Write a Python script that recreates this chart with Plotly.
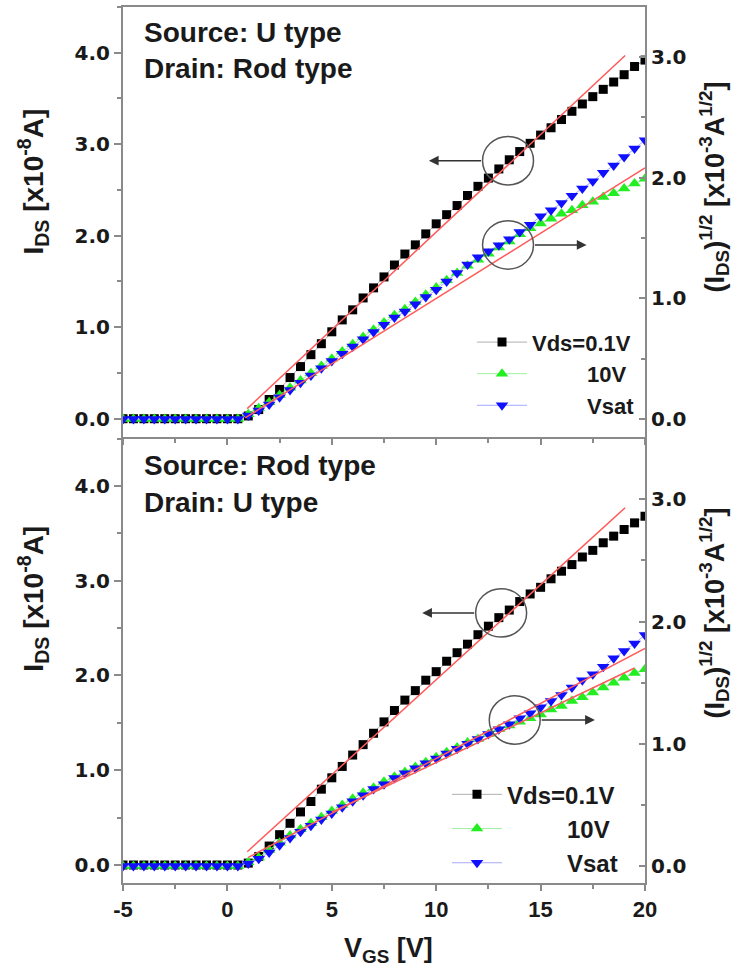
import plotly.graph_objects as go

# ---------------- data ----------------
vgs = [-5.0, -4.5, -4.0, -3.5, -3.0, -2.5, -2.0, -1.5, -1.0, -0.5, 0.0, 0.5,
       1.0, 1.5, 2.0, 2.5, 3.0, 3.5, 4.0, 4.5, 5.0, 5.5,
       6.0, 6.5, 7.0, 7.5, 8.0, 8.5, 9.0, 9.5, 10.0, 10.5,
       11.0, 11.5, 12.0, 12.5, 13.0, 13.5, 14.0, 14.5, 15.0, 15.5,
       16.0, 16.5, 17.0, 17.5, 18.0, 18.5, 19.0, 19.5, 20.0]

off = [0.0] * 12  # -5 .. 0.5 V

# top panel (Source: U type / Drain: Rod type)
top_ids_01 = off + [0.03, 0.10, 0.21, 0.32, 0.45, 0.57, 0.70, 0.82, 0.95, 1.08,
                    1.19, 1.32, 1.43, 1.55, 1.68, 1.80, 1.90, 2.02, 2.13, 2.23,
                    2.33, 2.44, 2.54, 2.63, 2.73, 2.83, 2.92, 3.01, 3.10, 3.18,
                    3.27, 3.36, 3.44, 3.52, 3.60, 3.68, 3.76, 3.85, 3.92]
top_sqrt_10 = off + [0.04, 0.09, 0.14, 0.20, 0.26, 0.32, 0.38, 0.44, 0.50, 0.56,
                     0.62, 0.68, 0.74, 0.80, 0.86, 0.91, 0.97, 1.03, 1.09, 1.15,
                     1.21, 1.27, 1.32, 1.37, 1.42, 1.47, 1.53, 1.58, 1.62, 1.66,
                     1.70, 1.73, 1.77, 1.80, 1.84, 1.87, 1.91, 1.95, 1.99]
top_sqrt_sat = off + [0.03, 0.07, 0.12, 0.18, 0.24, 0.30, 0.36, 0.42, 0.48, 0.54,
                      0.60, 0.66, 0.72, 0.78, 0.84, 0.89, 0.95, 1.01, 1.07, 1.14,
                      1.21, 1.28, 1.34, 1.39, 1.44, 1.49, 1.55, 1.61, 1.68, 1.73,
                      1.79, 1.85, 1.91, 1.97, 2.04, 2.10, 2.17, 2.24, 2.31]

# bottom panel (Source: Rod type / Drain: U type)
bot_ids_01 = off + [0.02, 0.09, 0.20, 0.32, 0.44, 0.56, 0.67, 0.80, 0.92, 1.04,
                    1.16, 1.27, 1.39, 1.51, 1.63, 1.74, 1.84, 1.95, 2.04, 2.15,
                    2.24, 2.33, 2.43, 2.52, 2.61, 2.69, 2.78, 2.86, 2.93, 3.02,
                    3.10, 3.17, 3.25, 3.32, 3.40, 3.47, 3.54, 3.61, 3.68]
bot_sqrt_10 = off + [0.03, 0.07, 0.13, 0.19, 0.25, 0.30, 0.35, 0.40, 0.45, 0.50,
                     0.55, 0.60, 0.64, 0.69, 0.73, 0.77, 0.81, 0.85, 0.89, 0.93,
                     0.97, 1.01, 1.04, 1.08, 1.12, 1.15, 1.18, 1.21, 1.24, 1.28,
                     1.31, 1.35, 1.38, 1.42, 1.46, 1.50, 1.54, 1.58, 1.61]
bot_sqrt_sat = off + [0.02, 0.06, 0.11, 0.17, 0.23, 0.28, 0.33, 0.38, 0.43, 0.48,
                      0.53, 0.58, 0.63, 0.67, 0.72, 0.76, 0.80, 0.84, 0.88, 0.92,
                      0.96, 1.00, 1.04, 1.08, 1.12, 1.16, 1.21, 1.25, 1.30, 1.35,
                      1.40, 1.46, 1.52, 1.57, 1.63, 1.70, 1.76, 1.82, 1.89]

# linear fits (end points)
top_fit_ids_x, top_fit_ids_y = [0.95, 19.05], [0.11, 3.97]
top_fit_sqrt_x, top_fit_sqrt_y = [0.85, 20.0], [0.01, 2.08]
bot_fit_ids_x, bot_fit_ids_y = [0.95, 19.05], [0.14, 3.77]
bot_fit_sat_x, bot_fit_sat_y = [1.0, 20.0], [0.07, 1.78]
bot_fit_10_x, bot_fit_10_y = [5.0, 19.5], [0.44, 1.62]

x_tick_vals = [-5, 0, 5, 10, 15, 20]
x_tick_text = ["-5", "0", "5", "10", "15", "20"]

series_names = ["Vds=0.1V", "\u00a0" * 9 + "10V", "\u00a0" * 9 + "Vsat"]
panel_titles = [("Source: U type", "Drain: Rod type"), ("Source: Rod type", "Drain: U type")]

# ---------------- figure ----------------
W, H = 739, 974
ML, MR, MT, MB = 123, 94, 5, 91
PW, PH = W - ML - MR, H - MT - MB
split = (H - MB - 436) / PH

def px(xp):
    return (xp - ML) / PW

def py(yp):
    return (H - MB - yp) / PH

AX = "#8a8a8a"
RED = "#ff5a5a"
FONT = "Liberation Sans"

fig = go.Figure()

def add_panel(ids, s10, ssat, xa, yl, yr, leg):
    fig.add_trace(go.Scatter(x=vgs, y=ids, name=series_names[0], mode="lines+markers",
                             line=dict(color="#b0b0b0", width=1),
                             marker=dict(symbol="square", size=9, color="black"),
                             xaxis=xa, yaxis=yl, legend=leg))
    fig.add_trace(go.Scatter(x=vgs, y=s10, name=series_names[1], mode="lines+markers",
                             line=dict(color="#a0f0a0", width=1),
                             marker=dict(symbol="triangle-up", size=11, color="#22ee22"),
                             xaxis=xa, yaxis=yr, legend=leg))
    fig.add_trace(go.Scatter(x=vgs, y=ssat, name=series_names[2], mode="lines+markers",
                             line=dict(color="#a8a8ff", width=1),
                             marker=dict(symbol="triangle-down", size=11, color="#1010ff"),
                             xaxis=xa, yaxis=yr, legend=leg))

add_panel(top_ids_01, top_sqrt_10, top_sqrt_sat, "x", "y", "y2", "legend")
add_panel(bot_ids_01, bot_sqrt_10, bot_sqrt_sat, "x2", "y3", "y4", "legend2")

for fx, fy, xa, ya in [(top_fit_ids_x, top_fit_ids_y, "x", "y"),
                       (top_fit_sqrt_x, top_fit_sqrt_y, "x", "y2"),
                       (bot_fit_ids_x, bot_fit_ids_y, "x2", "y3"),
                       (bot_fit_sat_x, bot_fit_sat_y, "x2", "y4"),
                       (bot_fit_10_x, bot_fit_10_y, "x2", "y4")]:
    fig.add_trace(go.Scatter(x=fx, y=fy, mode="lines", line=dict(color=RED, width=1.5),
                             xaxis=xa, yaxis=ya, showlegend=False, hoverinfo="skip"))

xtickfont = dict(family=FONT, size=22, color="#1a1a1a", weight="bold")
ytickfont = dict(family="DejaVu Sans", size=20, color="#1a1a1a", weight="bold")
common_x = dict(range=[-5, 20], tickmode="array", tickvals=x_tick_vals, ticktext=x_tick_text,
                ticks="outside", ticklen=6, tickwidth=1.5,
                tickcolor=AX, showline=True, linecolor=AX, linewidth=2, showgrid=False,
                zeroline=False, tickfont=xtickfont,
                minor=dict(tickmode="linear", tick0=-5, dtick=2.5, ticks="outside", ticklen=4,
                           tickcolor=AX, tickwidth=1.5))
common_yl = dict(tick0=0, dtick=1, tickformat=".1f", ticks="outside", ticklen=7, tickwidth=1.5,
                 tickcolor=AX, showline=True, linecolor=AX, linewidth=2, showgrid=False,
                 zeroline=False, tickfont=ytickfont,
                 minor=dict(dtick=0.5, ticks="outside", ticklen=4, tickcolor=AX, tickwidth=1.5))
common_yr = dict(tick0=0, dtick=1, tickformat=".1f", ticks="inside", ticklen=6, tickwidth=1.5,
                 tickcolor=AX, showline=True, linecolor=AX, linewidth=2, showgrid=False,
                 zeroline=False, tickfont=ytickfont, side="right",
                 minor=dict(dtick=0.5, ticks="inside", ticklen=4, tickcolor=AX, tickwidth=1.5))

leg_common = dict(bgcolor="rgba(0,0,0,0)", borderwidth=0, itemwidth=50,
                  xanchor="left", yanchor="top", tracegroupgap=0)

fig.update_layout(
    width=W, height=H, margin=dict(l=ML, r=MR, t=MT, b=MB),
    paper_bgcolor="white", plot_bgcolor="white",
    font=dict(family=FONT, color="#1a1a1a"),
    xaxis=dict(common_x, domain=[0, 1], anchor="y", showticklabels=False, mirror=True),
    yaxis=dict(common_yl, domain=[split, 1], anchor="x", range=[-0.2, 4.5]),
    yaxis2=dict(common_yr, overlaying="y", anchor="x", range=[-0.149, 3.413]),
    xaxis2=dict(common_x, domain=[0, 1], anchor="y3"),
    yaxis3=dict(common_yl, domain=[0, split], anchor="x2", range=[-0.19, 4.516]),
    yaxis4=dict(common_yr, overlaying="y3", anchor="x2", range=[-0.139, 3.51]),
    legend=dict(leg_common, x=px(472), y=py(320),
                font=dict(family=FONT, size=22, weight="bold", color="#1a1a1a")),
    legend2=dict(leg_common, x=px(447), y=py(772),
                 font=dict(family=FONT, size=24, weight="bold", color="#1a1a1a")),
    showlegend=True,
)

ann = []
title_font = dict(family=FONT, size=28, color="#1a1a1a", weight="bold")
for (t1, t2), (y1, y2) in zip(panel_titles, [(30.5, 67), (464.5, 501.5)]):
    ann.append(dict(text=t1, x=px(142), y=py(y1), xref="paper", yref="paper",
                    xanchor="left", yanchor="middle", showarrow=False, font=title_font))
    ann.append(dict(text=t2, x=px(142), y=py(y2), xref="paper", yref="paper",
                    xanchor="left", yanchor="middle", showarrow=False, font=title_font))

axis_font = dict(family=FONT, size=28, color="#1a1a1a", weight="bold")
left_title = "I<sub>DS</sub> [x10<sup>-8</sup>A]"
right_title = "(I<sub>DS</sub>)<sup>1/2</sup> [x10<sup>-3</sup>A<sup>1/2</sup>]"
for yc in (180, 598):
    ann.append(dict(text=left_title, x=px(33), y=py(yc), xref="paper", yref="paper",
                    xanchor="center", yanchor="middle", textangle=-90, showarrow=False,
                    font=axis_font))
for yc in (186, 613):
    ann.append(dict(text=right_title, x=px(714), y=py(yc), xref="paper", yref="paper",
                    xanchor="center", yanchor="middle", textangle=-90, showarrow=False,
                    font=dict(axis_font, size=27)))
ann.append(dict(text="V<sub>GS</sub> [V]", x=px(388), y=py(950), xref="paper", yref="paper",
                xanchor="center", yanchor="middle", showarrow=False,
                font=dict(axis_font, size=27)))

# circles + arrows
shapes = []
circ = [("x", "y", 13.44, 2.82, 1.22, 0.265, 9.65, -1),
        ("x", "y", 13.44, 1.90, 1.22, 0.265, 17.2, 1),
        ("x2", "y3", 13.11, 2.66, 1.22, 0.255, 9.33, -1),
        ("x2", "y3", 13.76, 1.53, 1.22, 0.255, 17.6, 1)]
for xa, ya, cx, cy, rx, ry, tip, d in circ:
    shapes.append(dict(type="circle", xref=xa, yref=ya, x0=cx - rx, x1=cx + rx,
                       y0=cy - ry, y1=cy + ry, line=dict(color="#555555", width=1.5)))
    ann.append(dict(x=tip, y=cy, ax=cx + d * rx, ay=cy, xref=xa, yref=ya, axref=xa, ayref=ya,
                    text="", showarrow=True, arrowhead=2, arrowsize=1.3, arrowwidth=1.5,
                    arrowcolor="#333333", standoff=0, startstandoff=0))

fig.update_layout(annotations=ann, shapes=shapes)
fig.write_html("out.html")
